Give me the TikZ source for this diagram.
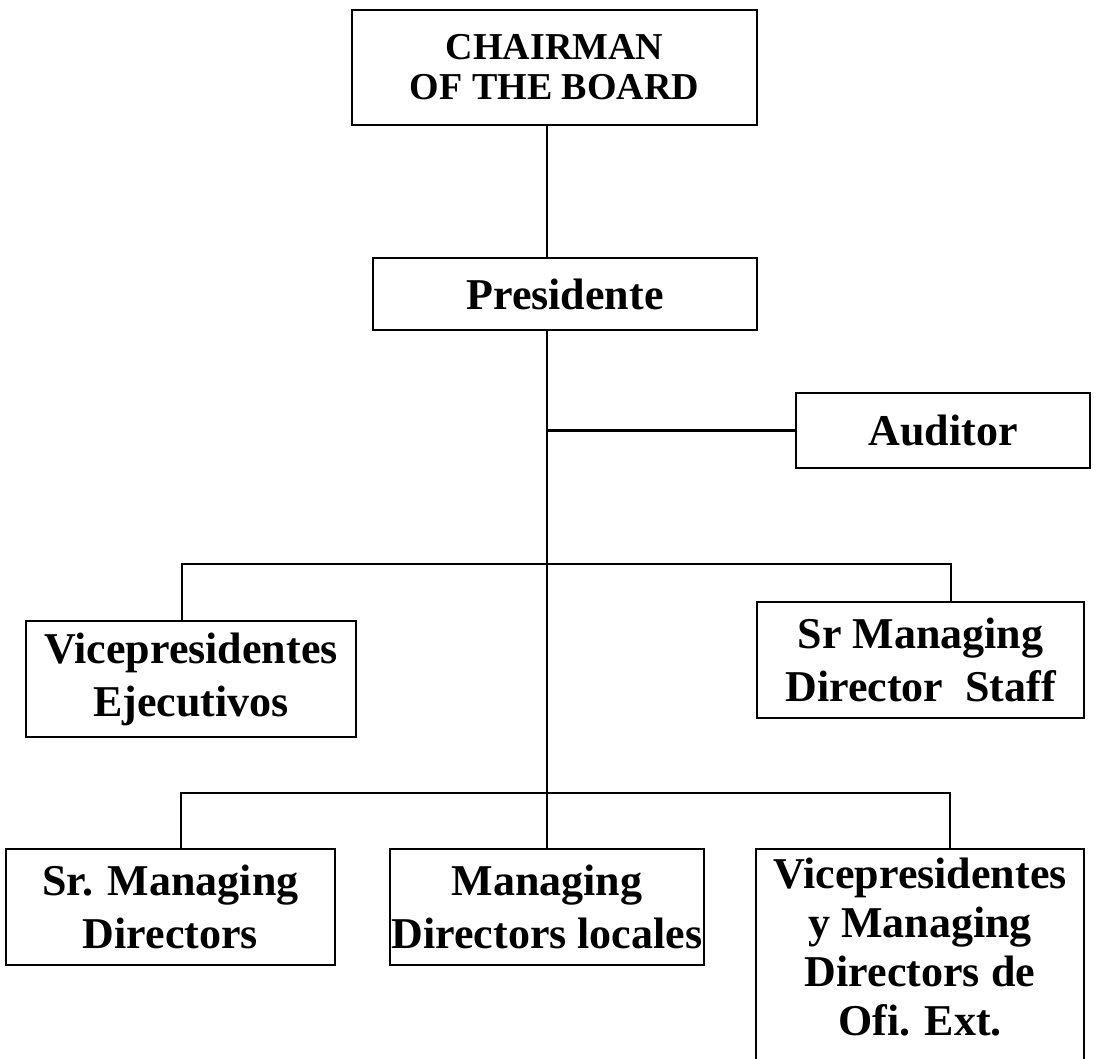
\documentclass[tikz,border=0pt]{standalone}
\usepackage{fontspec}
\setmainfont{Liberation Serif}
\begin{document}
\begin{tikzpicture}[x=1pt,y=-1pt,
  box/.style={draw, line width=2.4pt, inner sep=0pt, align=center,
    font=\bfseries\fontsize{44}{53}\selectfont},
  bigbox/.style={box, font=\bfseries\fontsize{38}{40}\selectfont},
  label/.style={inner sep=0pt, align=center, font=\bfseries\fontsize{44}{49}\selectfont},
  link/.style={line width=2.4pt}]
\useasboundingbox (0,0) rectangle (1108,1058);
\clip (0,0) rectangle (1108,1058);

% top of the chart
\node[bigbox, minimum width=405pt, minimum height=115pt] (chair) at (554.5,67.5)
  {CHAIRMAN\\OF THE BOARD};
\node[box, minimum width=384pt, minimum height=72pt] (pres) at (565,294) {Presidente};
\node[box, minimum width=294pt, minimum height=75pt] (aud) at (943,430.5) {Auditor};

% second level
\node[box, minimum width=330pt, minimum height=116pt] (vpe) at (191,679)
  {Vicepresidentes\\Ejecutivos};
\node[box, minimum width=327pt, minimum height=116pt] (smds) at (920.5,660)
  {Sr Managing\\Director~~Staff};

% third level
\node[box, minimum width=329pt, minimum height=116pt] (smd) at (170.5,907)
  {Sr. Managing\\Directors};
\node[box, minimum width=314pt, minimum height=116pt] (mdl) at (547,907)
  {Managing\\Directors locales};
\node[box, minimum width=328pt, minimum height=262pt] (vpm) at (920,980) {};
\node[label, anchor=north] (vpmtext) at (920,858)
  {Vicepresidentes\\y Managing\\Directors de\\Ofi. Ext.};

% junction points of the trunk and the bars
\coordinate (audj) at (547,430.5);
\coordinate (ul) at (182,564);
\coordinate (ur) at (951,564);
\coordinate (ll) at (181,793);
\coordinate (lr) at (950,793);

% connectors
\draw[link] (chair.south -| mdl.north) -- (pres.north -| mdl.north);
\draw[link] (pres.south -| mdl.north) -- (mdl.north);
\draw[link] (audj) -- (aud.west);
\draw[link] (vpe.north -| ul) -- (ul) -- (ur) -- (ur |- smds.north);
\draw[link] (smd.north -| ll) -- (ll) -- (lr) -- (lr |- vpm.north);
\end{tikzpicture}
\end{document}
